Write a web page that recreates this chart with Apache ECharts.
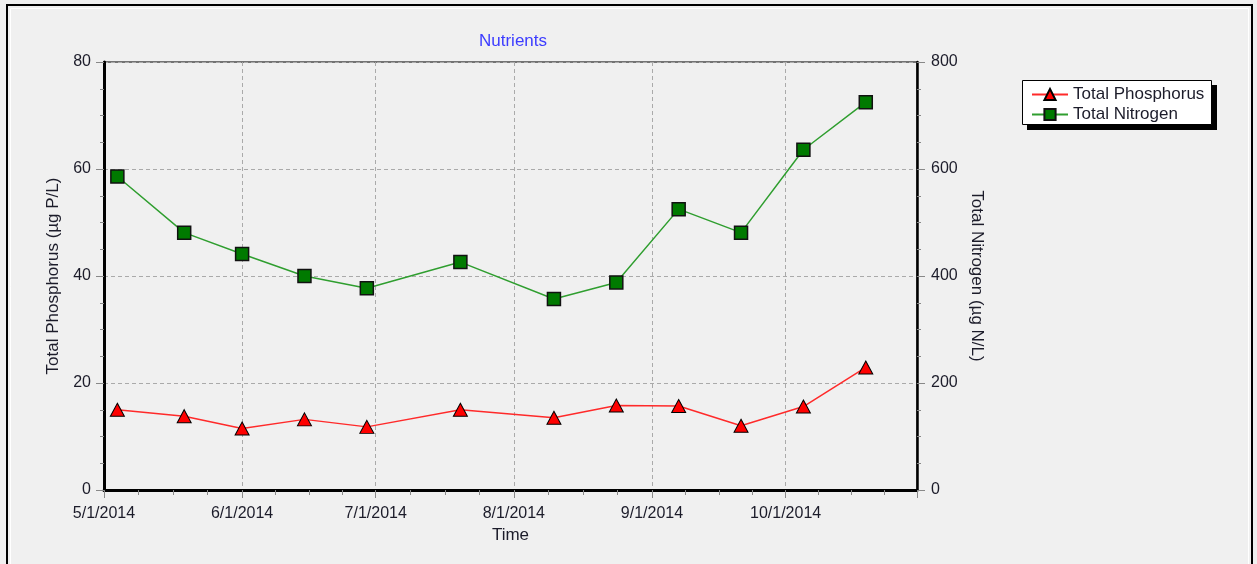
<!DOCTYPE html>
<html>
<head>
<meta charset="utf-8">
<title>Nutrients</title>
<script src="https://cdn.jsdelivr.net/npm/echarts@6/dist/echarts.min.js"></script>
<style>
    html, body { margin: 0; padding: 0; background: #f0f0f0; }
    #chart { width: 1257px; height: 564px; }
</style>
</head>
<body>
<div id="chart"></div>
<script>
"use strict";
// sample dates and values
const sampleDates = ['2014-05-04', '2014-05-19', '2014-06-01', '2014-06-15', '2014-06-29', '2014-07-20',
    '2014-08-10', '2014-08-24', '2014-09-07', '2014-09-21', '2014-10-05', '2014-10-19'];
const phosphorus = [15.0, 13.8, 11.5, 13.2, 11.8, 15.0, 13.5, 15.8, 15.7, 12.0, 15.6, 22.9];
const nitrogen = [586, 481, 441, 400, 377, 426, 357, 388, 525, 481, 636, 725];
const seriesNames = ['Total Phosphorus', 'Total Nitrogen'];

(() => {
    let chart = echarts.init(document.getElementById('chart'));
    const font = 'Liberation Sans, Arial, sans-serif';
    const textColor = '#1c1c2a';
    const pair = (vals) => sampleDates.map((d, i) => [d, vals[i]]);
    const isMonthStart = (v) => {
        let d = new Date(v);
        return d.getDate() === 1 && d.getHours() === 0;
    };
    const fmtDate = (v) => {
        if (!isMonthStart(v)) return '';
        let d = new Date(v);
        return (d.getMonth() + 1) + '/' + d.getDate() + '/' + d.getFullYear();
    };
    let option = {
        backgroundColor: '#f0f0f0',
        animation: false,
        title: {
            text: 'Nutrients',
            left: 479,
            top: 33,
            padding: 0,
            textStyle: { color: '#3c3cff', fontSize: 17, fontWeight: 'normal', fontFamily: font }
        },
        legend: {
            data: seriesNames,
            orient: 'vertical',
            left: 1022,
            top: 84,
            padding: [2, 4, 2, 9],
            itemWidth: 36,
            itemHeight: 14,
            itemGap: 3,
            z: 10,
            textStyle: { color: textColor, fontSize: 17, fontFamily: font }
        },
        graphic: [
            { type: 'rect', shape: { x: 7, y: 5, width: 1245, height: 580 },
              style: { fill: 'none', stroke: '#000', lineWidth: 2 }, silent: true },
            { type: 'rect', shape: { x: 10.5, y: 8.5, width: 1238, height: 580 },
              style: { fill: 'none', stroke: '#ffffff', lineWidth: 1 }, silent: true },
            // legend box with its drop shadow
            { type: 'rect', z: 1, shape: { x: 1027, y: 85, width: 190, height: 45 },
              style: { fill: '#000' }, silent: true },
            { type: 'rect', z: 2, shape: { x: 1022.5, y: 80.5, width: 189, height: 44 },
              style: { fill: '#ffffff', stroke: '#000', lineWidth: 1 }, silent: true }
        ],
        grid: {
            left: 104,
            right: 340,
            top: 62,
            bottom: 74,
            show: true,
            backgroundColor: 'transparent',
            borderColor: '#4a4a4a',
            borderWidth: 1.5
        },
        xAxis: {
            type: 'time',
            min: new Date(2014, 4, 1).getTime(),
            max: new Date(2014, 9, 30, 12).getTime(),
            minInterval: 28 * 86400000,
            maxInterval: 31 * 86400000,
            name: 'Time',
            nameLocation: 'middle',
            nameGap: 35,
            nameTextStyle: { color: textColor, fontSize: 17, fontFamily: font },
            axisLine: { lineStyle: { color: '#000', width: 3 } },
            axisTick: { show: true, length: 8, interval: (i, v) => isMonthStart(v), lineStyle: { color: '#888' } },
            minorTick: { show: true, splitNumber: 4, length: 5, lineStyle: { color: '#888' } },
            axisLabel: { color: textColor, fontSize: 16, fontFamily: font, margin: 16,
                formatter: fmtDate, hideOverlap: false, showMinLabel: true, showMaxLabel: false },
            splitLine: { show: true, interval: (i, v) => isMonthStart(v),
                lineStyle: { color: '#aaaaaa', type: [4, 3], width: 1 } }
        },
        yAxis: [
            {
                type: 'value',
                min: 0,
                max: 80,
                interval: 20,
                name: 'Total Phosphorus (µg P/L)',
                nameLocation: 'middle',
                nameGap: 41,
                nameTextStyle: { color: textColor, fontSize: 17, fontFamily: font },
                axisLine: { show: true, lineStyle: { color: '#000', width: 3 } },
                axisTick: { show: true, length: 8, lineStyle: { color: '#888' } },
                minorTick: { show: true, splitNumber: 4, length: 4, lineStyle: { color: '#888' } },
                axisLabel: { color: textColor, fontSize: 16, fontFamily: font, margin: 13 },
                splitLine: { show: true, lineStyle: { color: '#aaaaaa', type: [4, 3], width: 1 } }
            },
            {
                type: 'value',
                min: 0,
                max: 800,
                interval: 200,
                position: 'right',
                name: 'Total Nitrogen (µg N/L)',
                nameLocation: 'middle',
                nameRotate: -90,
                nameGap: 47,
                nameTextStyle: { color: textColor, fontSize: 17, fontFamily: font },
                axisLine: { show: true, lineStyle: { color: '#000', width: 2.5 } },
                axisTick: { show: true, length: 8, lineStyle: { color: '#888' } },
                minorTick: { show: true, splitNumber: 4, length: 4, lineStyle: { color: '#888' } },
                axisLabel: { color: textColor, fontSize: 16, fontFamily: font, margin: 14 },
                splitLine: { show: false }
            }
        ],
        series: [
            {
                name: seriesNames[0],
                type: 'line',
                yAxisIndex: 0,
                data: pair(phosphorus),
                symbol: 'triangle',
                symbolSize: [14, 13],
                showAllSymbol: true,
                lineStyle: { color: '#ff2a2a', width: 1.5 },
                itemStyle: { color: '#ff0000', borderColor: '#000', borderWidth: 1 }
            },
            {
                name: seriesNames[1],
                type: 'line',
                yAxisIndex: 1,
                data: pair(nitrogen),
                symbol: 'rect',
                symbolSize: 13,
                showAllSymbol: true,
                lineStyle: { color: '#2f9e2f', width: 1.5 },
                itemStyle: { color: '#007a00', borderColor: '#111', borderWidth: 1.5 }
            }
        ]
    };
    chart.setOption(option);
})();
</script>
</body>
</html>
